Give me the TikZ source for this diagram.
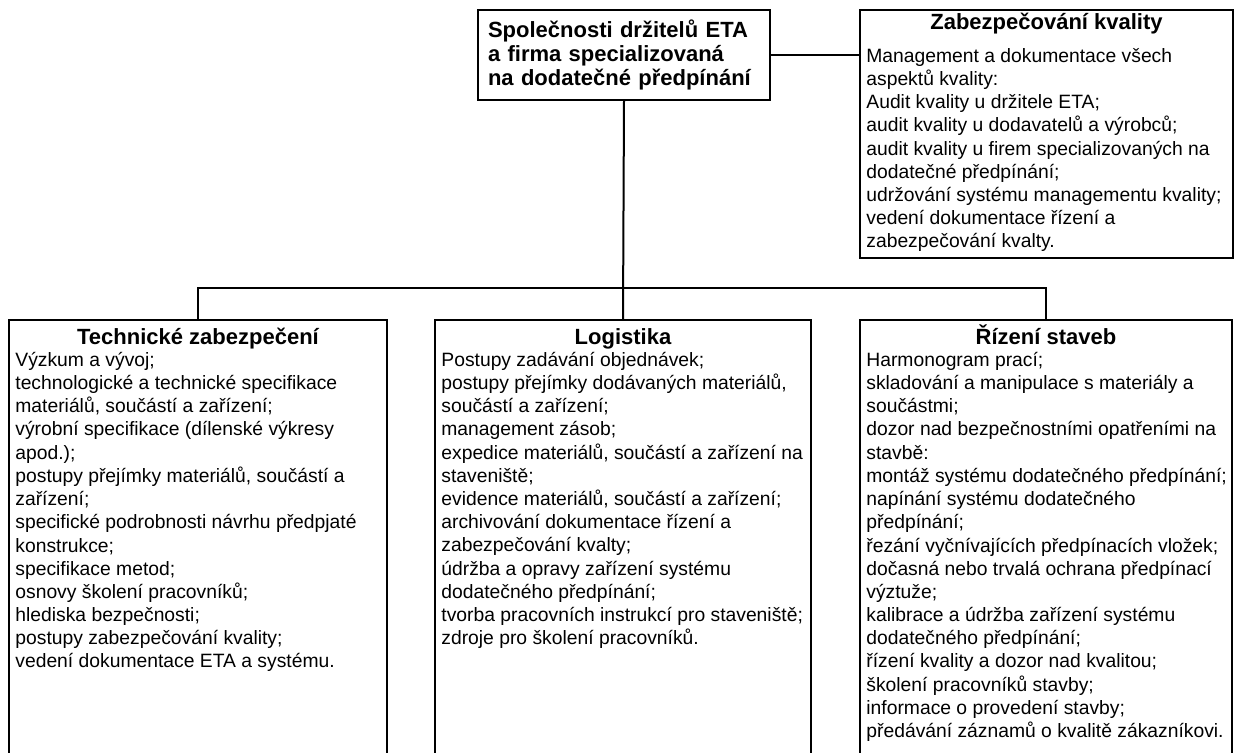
\documentclass[tikz,border=0pt]{standalone}
\usepackage{fontspec}
\setmainfont{Liberation Sans}
\usetikzlibrary{positioning}
\tikzset{
    org box/.style = {draw, line width=1pt, inner sep=0pt},
    org edge/.style = {draw, line width=1pt},
}
\tikzset{
    box title/.style = {inner sep=0pt, anchor=base, font=\bfseries\fontsize{11}{12}\selectfont},
    box text/.style = {inner sep=0pt, anchor=north west, align=left, font=\fontsize{9.65}{11.6}\selectfont},
}
\newcommand{\firstline}{\rule{0pt}{10pt}}

\begin{document}
\begin{tikzpicture}[x=0.5pt, y=-0.5pt]
                \useasboundingbox (0, 0) rectangle (1239, 753);
                \clip (0, 0) rectangle (1239, 753);

                \node[org box, anchor=north west, align=left, text width=136pt, inner xsep=5pt, minimum height=45pt,
                      font=\bfseries\fontsize{11}{12}\selectfont] (spolecnosti) at (477, 9)
                      {Společnosti držitelů ETA\\a firma specializovaná\\na dodatečné předpínání};

                \node[org box, anchor=north west, minimum width=186.5pt, minimum height=124pt] (kvalita) at (859, 9) {};
                \node[box title, below=10.5pt of kvalita.north, anchor=base] (kvalita title) {Zabezpečování kvality};
                \node[box text, below right=16.5pt and 3.5pt of kvalita.north west] (kvalita text)
                      {\firstline Management a dokumentace všech\\aspektů kvality:\\Audit kvality u držitele ETA;\\
                       audit kvality u dodavatelů a výrobců;\\audit kvality u firem specializovaných na\\
                       dodatečné předpínání;\\udržování systému managementu kvality;\\vedení dokumentace řízení a\\
                       zabezpečování kvalty.};

                \node[org box, anchor=north, minimum width=189pt, minimum height=240pt] (technicke) at (198, 319) {};
                \node[org box, anchor=north, minimum width=188pt, minimum height=240pt] (logistika) at (623, 319) {};
                \node[org box, anchor=north, minimum width=186pt, minimum height=240pt] (rizeni) at (1046, 319) {};

                \node[box title, below=13pt of technicke.north, anchor=base] (technicke title) {Technické zabezpečení};
                \node[box title, below=13pt of logistika.north, anchor=base] (logistika title) {Logistika};
                \node[box title, below=13pt of rizeni.north, anchor=base] (rizeni title) {Řízení staveb};

                \node[box text, below right=13.5pt and 3.5pt of technicke.north west] (technicke text)
                      {\firstline Výzkum a vývoj;\\technologické a technické specifikace\\materiálů, součástí a zařízení;\\
                       výrobní specifikace (dílenské výkresy\\apod.);\\postupy přejímky materiálů, součástí a\\zařízení;\\
                       specifické podrobnosti návrhu předpjaté\\konstrukce;\\specifikace metod;\\osnovy školení pracovníků;\\
                       hlediska bezpečnosti;\\postupy zabezpečování kvality;\\vedení dokumentace ETA a systému.};
                \node[box text, below right=13.5pt and 3.5pt of logistika.north west] (logistika text)
                      {\firstline Postupy zadávání objednávek;\\postupy přejímky dodávaných materiálů,\\součástí a zařízení;\\
                       management zásob;\\expedice materiálů, součástí a zařízení na\\staveniště;\\
                       evidence materiálů, součástí a zařízení;\\archivování dokumentace řízení a\\zabezpečování kvalty;\\
                       údržba a opravy zařízení systému\\dodatečného předpínání;\\tvorba pracovních instrukcí pro staveniště;\\
                       zdroje pro školení pracovníků.};
                \node[box text, below right=13.5pt and 3.5pt of rizeni.north west] (rizeni text)
                      {\firstline Harmonogram prací;\\skladování a manipulace s materiály a\\součástmi;\\
                       dozor nad bezpečnostními opatřeními na\\stavbě:\\montáž systému dodatečného předpínání;\\
                       napínání systému dodatečného\\předpínání;\\řezání vyčnívajících předpínacích vložek;\\
                       dočasná nebo trvalá ochrana předpínací\\výztuže;\\kalibrace a údržba zařízení systému\\
                       dodatečného předpínání;\\řízení kvality a dozor nad kvalitou;\\školení pracovníků stavby;\\
                       informace o provedení stavby;\\předávání záznamů o kvalitě zákazníkovi.};

                \coordinate (rozvetveni) at (623, 288);

                \draw[org edge] (spolecnosti.east) -- (kvalita.west |- spolecnosti.east);
                \draw[org edge] (spolecnosti.south) -- (logistika.north);
                \draw[org edge] (technicke.north) |- (rozvetveni) -| (rizeni.north);
            \end{tikzpicture}
\end{document}
